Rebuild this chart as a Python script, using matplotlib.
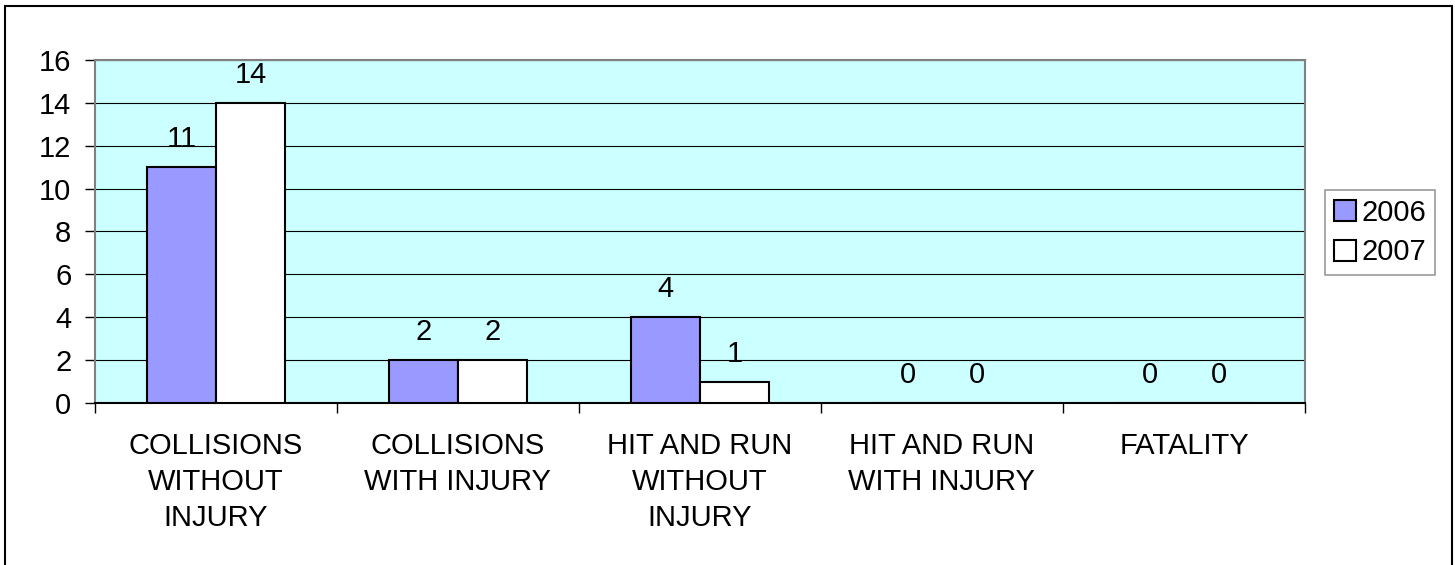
import matplotlib
matplotlib.use("Agg")
import matplotlib.pyplot as plt
import numpy as np
from matplotlib.patches import Rectangle

categories = ["COLLISIONS\nWITHOUT\nINJURY", "COLLISIONS\nWITH INJURY",
              "HIT AND RUN\nWITHOUT\nINJURY", "HIT AND RUN\nWITH INJURY", "FATALITY"]
series_names = ["2006", "2007"]
values_2006 = [11, 2, 4, 0, 0]
values_2007 = [14, 2, 1, 0, 0]
yticks = [0, 2, 4, 6, 8, 10, 12, 14, 16]

plt.rcParams['font.family'] = ['Liberation Sans', 'DejaVu Sans']
FS = 21

fig = plt.figure(figsize=(14.55, 5.65), dpi=100)
# outer border
fig.patches.append(Rectangle((5/1455, -0.01), (1452-5)/1455, (565-6)/565 + 0.01,
                             transform=fig.transFigure, fill=False,
                             edgecolor='black', linewidth=1.5))

ax = fig.add_axes([95/1455, (565-403)/565, (1305-95)/1455, (403-60)/565])
ax.set_facecolor('#CCFFFF')
x = np.arange(len(categories))
w = 0.285
b1 = ax.bar(x - w/2, values_2006, w, color='#9999FF', edgecolor='black', linewidth=1.5,
            label=series_names[0], zorder=3)
b2 = ax.bar(x + w/2, values_2007, w, color='white', edgecolor='black', linewidth=1.5,
            label=series_names[1], zorder=3)
for bars, vals in ((b1, values_2006), (b2, values_2007)):
    for r, v in zip(bars, vals):
        ax.annotate(str(v), (r.get_x() + r.get_width()/2, v), xytext=(0, 10),
                    textcoords='offset points', ha='center', va='bottom', fontsize=FS)

ax.set_ylim(0, 16)
ax.set_xlim(-0.5, len(categories) - 0.5)
ax.set_yticks(yticks)
ax.set_yticklabels([str(t) for t in yticks], fontsize=FS)
ax.yaxis.grid(True, color='black', linewidth=0.8, zorder=1)
ax.set_axisbelow(True)
ax.set_xticks(np.arange(len(categories) + 1) - 0.5)
ax.set_xticklabels([])
ax.set_xticks(x, minor=True)
ax.set_xticklabels(categories, minor=True, fontsize=FS, linespacing=1.35)
ax.tick_params(axis='x', which='minor', length=0, pad=21)
ax.tick_params(axis='x', which='major', length=7, width=1, direction='out', color='black')
ax.tick_params(axis='y', length=7, width=1, direction='out', color='black', pad=10)
for s in ax.spines.values():
    s.set_color('#808080')
    s.set_linewidth(1.5)
ax.spines['bottom'].set_color('black')

leg = ax.legend(loc='upper left', bbox_to_anchor=((1325-95)/1210, (403-190)/343),
                fontsize=FS, frameon=True, fancybox=False, edgecolor='#808080',
                handlelength=0.75, handleheight=0.75, handletextpad=0.2,
                borderpad=0.3, labelspacing=0.4, borderaxespad=0)
leg.get_frame().set_linewidth(1.2)

fig.savefig('out.png', dpi=100)
